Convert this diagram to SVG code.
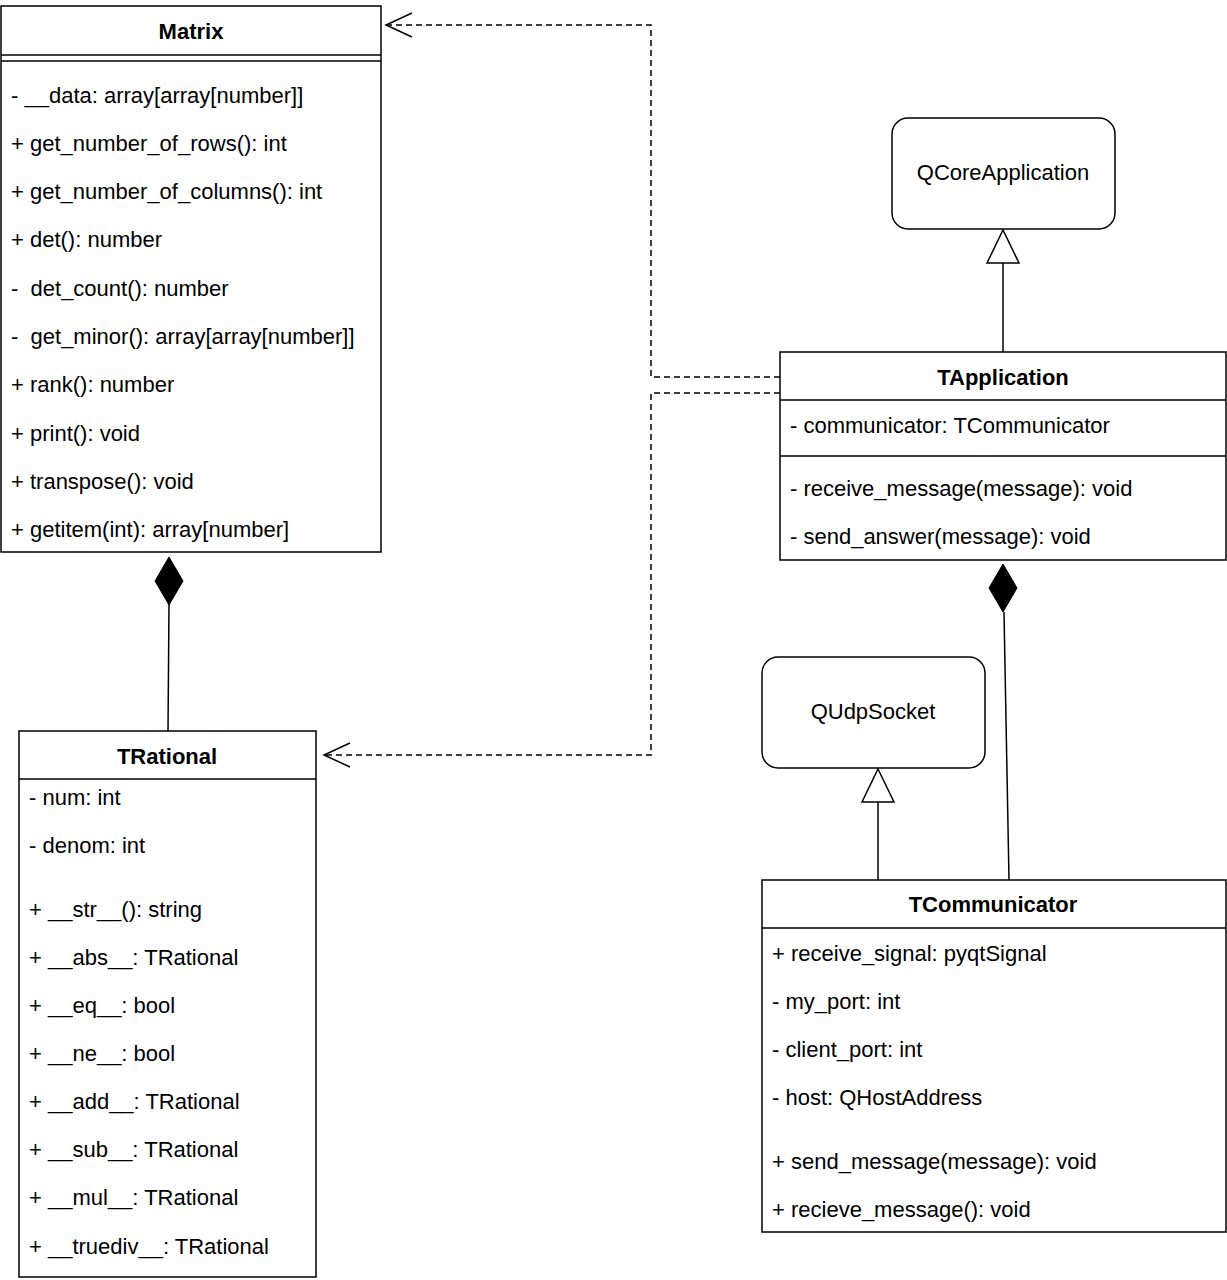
<svg xmlns="http://www.w3.org/2000/svg" width="1227" height="1280" viewBox="0 0 1227 1280">
<style>
.box{fill:#fff;stroke:#000;stroke-width:1.5}
.ln{stroke:#000;stroke-width:1.5;fill:none}
.dash{stroke:#000;stroke-width:1.5;fill:none;stroke-dasharray:6 4}
text{font-family:"Liberation Sans",Arial,sans-serif;font-size:22px;fill:#000;dominant-baseline:central;white-space:pre}
.t{font-weight:bold;text-anchor:middle}
.c{text-anchor:middle}
</style>
<rect width="1227" height="1280" fill="#fff"/>
<g id="connectors">
<path class="dash" d="M780,377 H651 V25 H386"/>
<path class="ln" d="M412,13 L386,25 L412,37"/>
<path class="dash" d="M780,393 H651 V755 H324"/>
<path class="ln" d="M350,743 L324,755 L350,767"/>
<path class="ln" d="M169,604 L168,731"/>
<path d="M169,557 L183,581 L169,605 L155,581 Z" fill="#000" stroke="#000"/>
<path class="ln" d="M1004,612 L1009,880"/>
<path d="M1003,564 L1017,588 L1003,612 L989,588 Z" fill="#000" stroke="#000"/>
<path class="ln" d="M1003,263 V352"/>
<path d="M1003,230 L1019,263 L987,263 Z" fill="#fff" stroke="#000" stroke-width="1.5"/>
<path class="ln" d="M878,802 V880"/>
<path d="M878,769 L894,802 L862,802 Z" fill="#fff" stroke="#000" stroke-width="1.5"/>
</g>
<g id="Matrix">
<rect class="box" x="1" y="6" width="380" height="546"/>
<line class="ln" x1="1" y1="55" x2="381" y2="55"/>
<line class="ln" x1="1" y1="61" x2="381" y2="61"/>
<text class="t" x="191" y="31">Matrix</text>
<text x="11" y="95">- __data: array[array[number]]</text>
<text x="11" y="143">+ get_number_of_rows(): int</text>
<text x="11" y="191">+ get_number_of_columns(): int</text>
<text x="11" y="239">+ det(): number</text>
<text x="11" y="288">-  det_count(): number</text>
<text x="11" y="336">-  get_minor(): array[array[number]]</text>
<text x="11" y="384">+ rank(): number</text>
<text x="11" y="433">+ print(): void</text>
<text x="11" y="481">+ transpose(): void</text>
<text x="11" y="529">+ getitem(int): array[number]</text>
</g>
<g id="QCoreApplication">
<rect class="box" x="892" y="118" width="223" height="111" rx="16"/>
<text class="c" x="1003" y="172">QCoreApplication</text>
</g>
<g id="TApplication">
<rect class="box" x="780" y="352" width="446" height="208"/>
<line class="ln" x1="780" y1="400" x2="1226" y2="400"/>
<line class="ln" x1="780" y1="456" x2="1226" y2="456"/>
<text class="t" x="1003" y="377">TApplication</text>
<text x="790" y="425">- communicator: TCommunicator</text>
<text x="790" y="488">- receive_message(message): void</text>
<text x="790" y="536">- send_answer(message): void</text>
</g>
<g id="QUdpSocket">
<rect class="box" x="762" y="657" width="223" height="111" rx="16"/>
<text class="c" x="873" y="711">QUdpSocket</text>
</g>
<g id="TRational">
<rect class="box" x="19" y="731" width="297" height="546"/>
<line class="ln" x1="19" y1="779" x2="316" y2="779"/>
<text class="t" x="167" y="756">TRational</text>
<text x="29" y="797">- num: int</text>
<text x="29" y="845">- denom: int</text>
<text x="29" y="909">+ __str__(): string</text>
<text x="29" y="957">+ __abs__: TRational</text>
<text x="29" y="1005">+ __eq__: bool</text>
<text x="29" y="1053">+ __ne__: bool</text>
<text x="29" y="1101">+ __add__: TRational</text>
<text x="29" y="1149">+ __sub__: TRational</text>
<text x="29" y="1197">+ __mul__: TRational</text>
<text x="29" y="1246">+ __truediv__: TRational</text>
</g>
<g id="TCommunicator">
<rect class="box" x="762" y="880" width="464" height="352"/>
<line class="ln" x1="762" y1="928" x2="1226" y2="928"/>
<text class="t" x="993" y="904">TCommunicator</text>
<text x="772" y="953">+ receive_signal: pyqtSignal</text>
<text x="772" y="1001">- my_port: int</text>
<text x="772" y="1049">- client_port: int</text>
<text x="772" y="1097">- host: QHostAddress</text>
<text x="772" y="1161">+ send_message(message): void</text>
<text x="772" y="1209">+ recieve_message(): void</text>
</g>
</svg>
